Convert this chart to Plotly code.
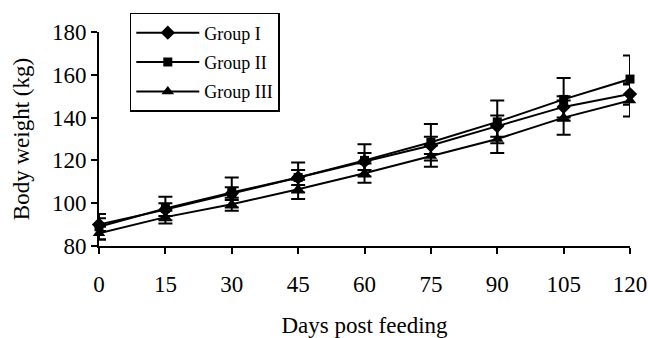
import plotly.graph_objects as go

days = [0, 15, 30, 45, 60, 75, 90, 105, 120]
group1 = [90, 97, 104.5, 112, 119.5, 127, 136, 145, 151]
group2 = [89, 97.5, 105, 112, 120, 128.5, 138, 148.5, 158]
group3 = [86, 93.5, 99.5, 106.5, 114, 122, 130, 140, 148]
err1 = [3, 3, 3, 3.5, 4, 4, 5, 5, 5]
err2 = [6, 5.5, 7, 7, 7.5, 8.5, 10, 10, 11]
err3 = [3, 3, 3, 4.5, 4.5, 5, 6.5, 8, 7.5]

names = ["Group I", "Group II", "Group III"]
symbols = ["diamond", "square", "triangle-up"]
sizes = [11, 9, 11]

fig = go.Figure()
for name, ys, es, sym, sz in zip(names, [group1, group2, group3], [err1, err2, err3], symbols, sizes):
    fig.add_trace(go.Scatter(
        x=days, y=ys, name=name, legendgroup=name, mode="lines+markers",
        line=dict(color="black", width=2),
        marker=dict(symbol=sym, size=sz, color="black"),
        error_y=dict(type="data", array=es, visible=True, color="black", thickness=2, width=7),
        cliponaxis=False,
    ))

font_family = "Liberation Serif, Times New Roman, serif"
fig.update_layout(
    width=648, height=338,
    margin=dict(l=99, r=18, t=32, b=92),
    plot_bgcolor="white", paper_bgcolor="white",
    font=dict(family=font_family, color="black", size=23),
    legend=dict(
        x=0.058, y=1.089, xanchor="left", yanchor="top",
        bordercolor="black", borderwidth=1.5, bgcolor="white",
        font=dict(size=18, family=font_family),
        itemwidth=63, tracegroupgap=3,
    ),
    xaxis=dict(
        range=[0, 120], tickvals=days, ticktext=[str(d) for d in days],
        showline=True, linecolor="black", linewidth=2,
        ticks="outside", ticklen=6, tickwidth=2, tickcolor="black",
        showgrid=False, zeroline=False, ticklabelstandoff=10, automargin=False,
        title=dict(text="Days post feeding", font=dict(size=23), standoff=22),
    ),
    yaxis=dict(
        range=[80, 180], tickvals=[80, 100, 120, 140, 160, 180],
        showline=True, linecolor="black", linewidth=2,
        ticks="outside", ticklen=6, tickwidth=2, tickcolor="black",
        showgrid=False, zeroline=False, automargin=True,
        title=dict(text="Body weight (kg)", font=dict(size=23), standoff=16),
    ),
)
fig.write_html("out.html", config={"displayModeBar": False},
               post_script="document.body.style.margin='0';")
